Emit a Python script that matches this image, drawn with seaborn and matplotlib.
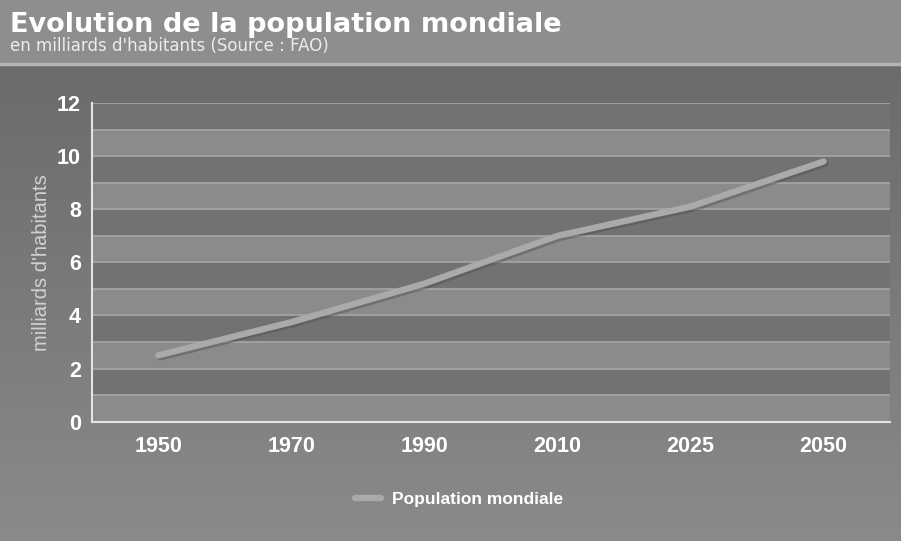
import numpy as np
import pandas as pd
import matplotlib
matplotlib.use("Agg")
import matplotlib.pyplot as plt
import seaborn as sns

# Données
annees = ['1950', '1970', '1990', '2010', '2025', '2050']
population = [2.5, 3.75, 5.2, 7.0, 8.1, 9.8]
yticks = [0, 2, 4, 6, 8, 10, 12]

df = pd.DataFrame({'annee': annees, 'population': population})

sns.set_style("white")
plt.rcParams['font.family'] = ['Liberation Sans', 'DejaVu Sans']

fig = plt.figure(figsize=(9.01, 5.41), dpi=100)
fig.patch.set_facecolor('#8a8a8a')

# fond : dégradé vertical sous l'en-tête
bg = fig.add_axes([0, 0, 1, 0.883])
grad = np.linspace(0, 1, 256).reshape(-1, 1)
bg.imshow(grad, aspect='auto', cmap=matplotlib.colors.LinearSegmentedColormap.from_list(
    'g', ['#6b6b6b', '#8a8a8a']), extent=[0, 1, 0, 1], origin='upper')
bg.set_axis_off()

# en-tête
hd = fig.add_axes([0, 0.883, 1, 0.117])
hd.set_facecolor('#8e8e8e')
hd.set_xticks([])
hd.set_yticks([])
for s in hd.spines.values():
    s.set_visible(False)
fig.add_artist(plt.Line2D([0, 1], [0.882, 0.882], color='#b4b4b4', lw=2.5,
                          transform=fig.transFigure))

fig.text(0.011, 0.94, "Evolution de la population mondiale", color='white',
         fontsize=19.5, fontweight='bold', family='DejaVu Sans', va='baseline')
fig.text(0.011, 0.905, "en milliards d'habitants (Source : FAO)", color='#ececec',
         fontsize=12, family='DejaVu Sans', va='baseline')

ax = fig.add_axes([0.102, 0.2205, 0.886, 0.589])
ax.set_facecolor('#727272')

# bandes horizontales
for b in range(0, 12, 2):
    ax.axhspan(b, b + 1, color='#8b8b8b', zorder=0, lw=0)
for v in range(0, 13):
    ax.axhline(v, color='#a6a6a6', lw=1.2, zorder=1)

# ombre de la courbe
sns.lineplot(data=df, x='annee', y='population', ax=ax, color='#4e4e4e',
             lw=4.5, alpha=0.45, zorder=2, legend=False,
             solid_capstyle='round', sort=False)
for l in ax.lines[-1:]:
    l.set_transform(l.get_transform() + matplotlib.transforms.ScaledTranslation(
        1.5 / 72, -1.5 / 72, fig.dpi_scale_trans))
sns.lineplot(data=df, x='annee', y='population', ax=ax, color='#aaaaaa',
             lw=4.5, zorder=3, label='Population mondiale',
             solid_capstyle='round', sort=False)

ax.set_xlim(-0.5, len(annees) - 0.5)
ax.set_ylim(0, 12)
ax.set_yticks(yticks)
ax.set_xticks(range(len(annees)))
ax.set_xticklabels(annees)
ax.set_xticks(np.arange(-0.5, len(annees), 1), minor=True)
ax.tick_params(axis='x', which='major', length=0, pad=10, labelsize=15.5,
               labelcolor='white')
ax.tick_params(axis='x', which='minor', length=5, width=1.2, color='#e0e0e0',
               direction='out')
ax.tick_params(axis='y', length=5, width=1.2, color='#e0e0e0', labelsize=15.5,
               labelcolor='white', pad=3)
for t in ax.get_xticklabels() + ax.get_yticklabels():
    t.set_fontweight('bold')

for s in ['top', 'right']:
    ax.spines[s].set_visible(False)
for s in ['left', 'bottom']:
    ax.spines[s].set_color('#e4e4e4')
    ax.spines[s].set_linewidth(1.5)

ax.set_xlabel('')
ax.set_ylabel("milliards d'habitants", color='#d2d2d2', fontsize=14.5, labelpad=4)

leg = ax.legend(loc='center', bbox_to_anchor=(0.46, -0.245), frameon=False,
                prop={'weight': 'bold', 'size': 12.5}, handlelength=1.5,
                handletextpad=0.6)
for t in leg.get_texts():
    t.set_color('white')

fig.savefig('out.png', dpi=100, facecolor=fig.get_facecolor())
